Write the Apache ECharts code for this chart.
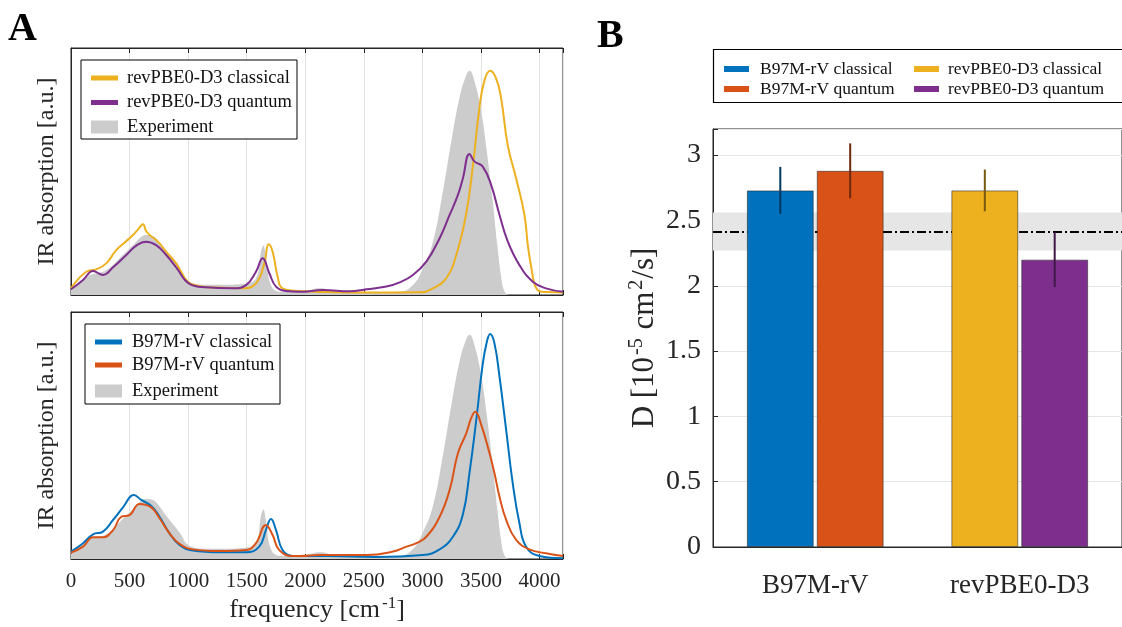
<!DOCTYPE html>
<html><head><meta charset="utf-8">
<script src="https://cdn.jsdelivr.net/npm/echarts@6/dist/echarts.min.js"></script>
<style>html,body{margin:0;padding:0;background:#fff}#c{width:1122px;height:627px}</style>
</head><body><div id="c"></div>
<script>
// ---------- Panel A data (IR spectra, arbitrary units) ----------
const freqTicks = [0, 500, 1000, 1500, 2000, 2500, 3000, 3500, 4000];

const expFreq = [0, 131, 216, 301, 415, 529, 600, 642, 690, 727, 813, 926, 1011, 1153, 1300, 1466, 1579, 1622, 1642, 1664, 1707, 1778, 1900, 2000, 2124, 2250, 2380, 2600, 2806, 2919, 3004, 3090, 3175, 3246, 3317, 3374, 3402, 3445, 3502, 3550, 3600, 3640, 3670, 3700, 3740, 3900, 4200];
const expVal  = [0.02, 0.074, 0.088, 0.10, 0.149, 0.202, 0.235, 0.243, 0.24, 0.23, 0.175, 0.108, 0.054, 0.042, 0.042, 0.045, 0.068, 0.175, 0.2, 0.155, 0.04, 0.013, 0.012, 0.015, 0.027, 0.015, 0.012, 0.012, 0.013, 0.04, 0.108, 0.216, 0.42, 0.62, 0.80, 0.89, 0.908, 0.864, 0.742, 0.58, 0.38, 0.2, 0.08, 0.015, 0.0, 0.0, 0.0];

const pbeClassFreq = [0, 131, 216, 301, 386, 457, 529, 580, 614, 640, 671, 742, 813, 898, 997, 1096, 1238, 1466, 1579, 1650, 1687, 1721, 1764, 1806, 1948, 2200, 2522, 2976, 3090, 3203, 3289, 3374, 3430, 3487, 3530, 3578, 3629, 3672, 3728, 3800, 3871, 3900, 3930, 3960, 4000, 4055, 4200];
const pbeClassVal  = [0.027, 0.094, 0.104, 0.128, 0.182, 0.212, 0.243, 0.27, 0.286, 0.26, 0.243, 0.216, 0.175, 0.128, 0.054, 0.036, 0.030, 0.027, 0.047, 0.128, 0.205, 0.175, 0.074, 0.027, 0.016, 0.012, 0.01, 0.011, 0.027, 0.068, 0.162, 0.33, 0.52, 0.76, 0.87, 0.908, 0.877, 0.796, 0.607, 0.472, 0.324, 0.2, 0.11, 0.04, 0.015, 0.012, 0.01];

const pbeQuantFreq = [0, 103, 188, 273, 359, 472, 557, 642, 727, 813, 898, 1011, 1153, 1381, 1494, 1579, 1636, 1693, 1750, 1835, 1954, 2153, 2380, 2522, 2692, 2806, 2919, 3033, 3147, 3232, 3303, 3345, 3402, 3445, 3515, 3587, 3658, 3729, 3828, 3942, 4055, 4200];
const pbeQuantVal  = [0.023, 0.061, 0.097, 0.081, 0.112, 0.162, 0.2, 0.216, 0.202, 0.162, 0.112, 0.045, 0.031, 0.027, 0.040, 0.094, 0.149, 0.088, 0.034, 0.016, 0.013, 0.02, 0.015, 0.023, 0.034, 0.051, 0.081, 0.135, 0.23, 0.324, 0.405, 0.472, 0.571, 0.54, 0.52, 0.445, 0.324, 0.216, 0.121, 0.054, 0.027, 0.013];

const b97ClassFreq = [0, 103, 188, 273, 359, 444, 537, 600, 685, 756, 841, 926, 1040, 1268, 1494, 1607, 1664, 1707, 1750, 1806, 1891, 2200, 2600, 3004, 3147, 3260, 3345, 3402, 3459, 3515, 3550, 3578, 3615, 3658, 3715, 3771, 3828, 3885, 3998, 4200];
const b97ClassVal  = [0.03, 0.064, 0.10, 0.111, 0.158, 0.209, 0.259, 0.239, 0.215, 0.171, 0.104, 0.057, 0.034, 0.027, 0.027, 0.05, 0.117, 0.162, 0.117, 0.036, 0.012, 0.012, 0.008, 0.016, 0.039, 0.09, 0.18, 0.35, 0.56, 0.79, 0.88, 0.911, 0.873, 0.738, 0.522, 0.306, 0.145, 0.05, 0.012, 0.003];

const b97QuantFreq = [0, 103, 188, 273, 359, 429, 500, 585, 685, 756, 841, 926, 1040, 1268, 1494, 1579, 1664, 1721, 1778, 1891, 1954, 2124, 2522, 2749, 2863, 2948, 3033, 3147, 3232, 3303, 3374, 3416, 3451, 3502, 3573, 3615, 3658, 3715, 3800, 3913, 4055, 4200];
const b97QuantVal  = [0.026, 0.05, 0.088, 0.088, 0.117, 0.171, 0.178, 0.223, 0.209, 0.165, 0.104, 0.061, 0.039, 0.032, 0.036, 0.064, 0.138, 0.097, 0.036, 0.012, 0.012, 0.016, 0.016, 0.03, 0.05, 0.064, 0.09, 0.171, 0.279, 0.428, 0.509, 0.57, 0.596, 0.543, 0.428, 0.347, 0.252, 0.158, 0.077, 0.039, 0.023, 0.012];

// ---------- Panel B data (diffusion coefficient) ----------
const methods = ['B97M-rV', 'revPBE0-D3'];
const dClassical = [2.73, 2.73];
const dQuantum = [2.88, 2.20];
const errClassicalLow = [2.55, 2.57];
const errClassicalHigh = [2.91, 2.89];
const errQuantumLow = [2.67, 1.99];
const errQuantumHigh = [3.09, 2.41];
const dExperiment = 2.41;
const dExperimentLow = 2.27;
const dExperimentHigh = 2.56;
const dTicks = [0, 0.5, 1, 1.5, 2, 2.5, 3];

// ---------- styling ----------
const FONT = 'Liberation Serif';
const C_BLUE = '#0072BD', C_ORANGE = '#D95319', C_YELLOW = '#EDB120', C_PURPLE = '#7E2F8E', C_GRAY = '#cccccc';
const E_BLUE = '#00395E', E_ORANGE = '#6D2A0D', E_YELLOW = '#775910', E_PURPLE = '#3F1847';
const AXC = '#262626';
const pairs = (f, v) => f.map((x, i) => [x, v[i]]);

const BAR_FRAC = 0.327, GAP_FRAC = 0.045;
const SMOOTH = 0.45;

const chart = echarts.init(document.getElementById('c'), null, {renderer: 'canvas'});

function freqAxis(gridIndex, showLabels, position) {
  return {
    type: 'value', gridIndex, position, min: 0, max: 4200, interval: 500,
    axisLine: {show: true, onZero: false, lineStyle: {color: AXC, width: 1}},
    axisTick: {show: true, inside: true, length: 5, lineStyle: {color: AXC}},
    axisLabel: {show: showLabels, color: AXC, fontFamily: FONT, fontSize: 21, margin: 12,
      formatter: v => (freqTicks.indexOf(v) >= 0 ? String(v) : '')},
    splitLine: {show: position === 'bottom', lineStyle: {color: '#e3e3e3', width: 1}}
  };
}
function irYAxis(gridIndex) {
  return {
    type: 'value', gridIndex, min: 0, max: 1,
    axisLine: {show: true, lineStyle: {color: AXC}}, axisTick: {show: false},
    axisLabel: {show: false}, splitLine: {show: false},
    name: 'IR absorption [a.u.]', nameLocation: 'middle', nameGap: 12, nameRotate: 90,
    nameTextStyle: {fontFamily: FONT, fontSize: 24, color: AXC}
  };
}
function lineSeries(name, data, color, xi, yi) {
  return {type: 'line', name, data, xAxisIndex: xi, yAxisIndex: yi, symbol: 'none',
    smooth: SMOOTH, color, lineStyle: {color, width: 2}, z: 3, silent: true};
}
function expSeries(xi, yi) {
  return {type: 'line', name: 'Experiment', data: pairs(expFreq, expVal), xAxisIndex: xi, yAxisIndex: yi,
    symbol: 'none', smooth: SMOOTH, color: C_GRAY,
    lineStyle: {width: 0}, areaStyle: {color: C_GRAY, opacity: 1}, z: 2, silent: true};
}

function barSeries(name, catIdx, values, color, stack) {
  return {type: 'bar', name, xAxisIndex: 4, yAxisIndex: 2, stack,
    data: methods.map((m, i) => (i === catIdx ? values[i] : '-')),
    barWidth: (BAR_FRAC * 100) + '%', barGap: (GAP_FRAC * 100) + '%',
    color, itemStyle: {color, borderColor: 'rgba(40,40,40,0.55)', borderWidth: 1}, z: 4, silent: true};
}
const errData = [];
methods.forEach((m, i) => {
  errData.push([i, errClassicalLow[i], errClassicalHigh[i], 0]);
  errData.push([i, errQuantumLow[i], errQuantumHigh[i], 1]);
});
const errColors = [[E_BLUE, E_ORANGE], [E_YELLOW, E_PURPLE]];

const legendText = (size) => ({fontFamily: FONT, fontSize: size, color: '#111', lineHeight: 20});

const option = {
  animation: false,
  backgroundColor: '#fff',
  grid: [
    {left: 71, top: 48, width: 492, height: 247, show: true, borderColor: AXC, borderWidth: 1, backgroundColor: 'transparent'},
    {left: 71, top: 312, width: 492, height: 247, show: true, borderColor: AXC, borderWidth: 1, backgroundColor: 'transparent'},
    {left: 713, top: 129, width: 410, height: 418, show: true, borderColor: AXC, borderWidth: 1, backgroundColor: 'transparent'}
  ],
  xAxis: [
    freqAxis(0, false, 'bottom'),
    freqAxis(0, false, 'top'),
    Object.assign(freqAxis(1, true, 'bottom'), {
      name: '{a|frequency [cm}{s|-1}{a|]}', nameLocation: 'middle', nameGap: 36,
      nameTextStyle: {rich: {
        a: {fontFamily: FONT, fontSize: 26, color: AXC, lineHeight: 30},
        s: {fontFamily: FONT, fontSize: 17, color: AXC, verticalAlign: 'top', lineHeight: 17, padding: [0, 0, 0, 2]}
      }}
    }),
    freqAxis(1, false, 'top'),
    {type: 'category', gridIndex: 2, data: methods,
      axisLine: {show: true, lineStyle: {color: AXC}}, axisTick: {show: false},
      axisLabel: {color: AXC, fontFamily: FONT, fontSize: 27, margin: 25}}
  ],
  yAxis: [
    irYAxis(0),
    irYAxis(1),
    {type: 'value', gridIndex: 2, min: 0, max: 3.2, interval: 0.5,
      axisLine: {show: true, lineStyle: {color: AXC}},
      axisTick: {show: true, inside: true, length: 5, lineStyle: {color: AXC}},
      axisLabel: {color: AXC, fontFamily: FONT, fontSize: 28, margin: 12,
        formatter: v => (dTicks.some(t => Math.abs(t - v) < 1e-9) ? String(v) : '')},
      splitLine: {show: true, lineStyle: {color: '#e6e6e6', width: 1}},
      name: '{a|D [10}{s|-5}{a| cm}{s|2}{a|/s]}', nameLocation: 'middle', nameGap: 50, nameRotate: 90,
      nameTextStyle: {rich: {
        a: {fontFamily: FONT, fontSize: 31, color: AXC, lineHeight: 36},
        s: {fontFamily: FONT, fontSize: 20, color: AXC, verticalAlign: 'top', lineHeight: 20, padding: [0, 1, 0, 2]}
      }}
    }
  ],
  legend: [
    {orient: 'vertical', left: 86, top: 63, itemWidth: 27, itemHeight: 5, itemGap: 4.5, icon: 'rect',
      data: ['revPBE0-D3 classical', 'revPBE0-D3 quantum'], textStyle: Object.assign(legendText(18.5), {padding: [0, 0, 0, 4]}),
      itemStyle: {borderWidth: 0}, selectedMode: false, z: 10},
    {orient: 'vertical', left: 86, top: 112, itemWidth: 27, itemHeight: 13, icon: 'rect',
      data: [{name: 'Experiment', itemStyle: {color: C_GRAY}}], textStyle: Object.assign(legendText(18.5), {padding: [0, 0, 0, 4]}),
      itemStyle: {borderWidth: 0}, selectedMode: false, z: 10},
    {orient: 'vertical', left: 90, top: 327, itemWidth: 27, itemHeight: 5, itemGap: 3, icon: 'rect',
      data: ['B97M-rV classical', 'B97M-rV quantum'], textStyle: Object.assign(legendText(18.5), {padding: [0, 0, 0, 5]}),
      itemStyle: {borderWidth: 0}, selectedMode: false, z: 10},
    {orient: 'vertical', left: 90, top: 376, itemWidth: 27, itemHeight: 13, icon: 'rect',
      data: [{name: 'Experiment', itemStyle: {color: C_GRAY}}], textStyle: Object.assign(legendText(18.5), {padding: [0, 0, 0, 5]}),
      itemStyle: {borderWidth: 0}, selectedMode: false, z: 10},
    {orient: 'vertical', left: 719, top: 54, itemWidth: 25, itemHeight: 6, itemGap: 0, icon: 'rect',
      data: ['B97M-rV classical', 'B97M-rV quantum'], textStyle: Object.assign(legendText(17.5), {padding: [0, 0, 0, 6]}),
      itemStyle: {borderWidth: 0}, selectedMode: false, z: 10},
    {orient: 'vertical', left: 909, top: 54, itemWidth: 25, itemHeight: 6, itemGap: 0, icon: 'rect',
      data: ['revPBE0-D3 classical', 'revPBE0-D3 quantum'], textStyle: Object.assign(legendText(17.5), {padding: [0, 0, 0, 4]}),
      itemStyle: {borderWidth: 0}, selectedMode: false, z: 10}
  ],
  graphic: [
    {type: 'text', left: 8, top: 10, style: {text: 'A', font: 'bold 40px "Liberation Serif"', fill: '#000'}},
    {type: 'text', left: 597, top: 17, style: {text: 'B', font: 'bold 40px "Liberation Serif"', fill: '#000'}},
    {type: 'rect', shape: {x: 81, y: 60, width: 216, height: 79}, style: {fill: '#fff', stroke: '#000', lineWidth: 1}, z: 8},
    {type: 'rect', shape: {x: 85, y: 324, width: 195, height: 80}, style: {fill: '#fff', stroke: '#000', lineWidth: 1}, z: 8},
    {type: 'rect', shape: {x: 713.5, y: 49.5, width: 420, height: 53}, style: {fill: '#fff', stroke: '#000', lineWidth: 1.2}, z: 8}
  ],
  series: [
    expSeries(0, 0),
    lineSeries('revPBE0-D3 classical', pairs(pbeClassFreq, pbeClassVal), C_YELLOW, 0, 0),
    lineSeries('revPBE0-D3 quantum', pairs(pbeQuantFreq, pbeQuantVal), C_PURPLE, 0, 0),
    expSeries(2, 1),
    lineSeries('B97M-rV classical', pairs(b97ClassFreq, b97ClassVal), C_BLUE, 2, 1),
    lineSeries('B97M-rV quantum', pairs(b97QuantFreq, b97QuantVal), C_ORANGE, 2, 1),
    barSeries('B97M-rV classical', 0, dClassical, C_BLUE, 'cls'),
    barSeries('B97M-rV quantum', 0, dQuantum, C_ORANGE, 'qnt'),
    barSeries('revPBE0-D3 classical', 1, dClassical, C_YELLOW, 'cls'),
    barSeries('revPBE0-D3 quantum', 1, dQuantum, C_PURPLE, 'qnt'),
    {type: 'custom', name: 'errors', xAxisIndex: 4, yAxisIndex: 2, data: errData, z: 6, silent: true,
      renderItem: (params, api) => {
        const cat = api.value(0), slot = api.value(3);
        const pLow = api.coord([cat, api.value(1)]);
        const pHigh = api.coord([cat, api.value(2)]);
        const band = api.size([1, 0])[0];
        const bw = band * BAR_FRAC;
        const off = (bw + bw * GAP_FRAC) / 2 * (slot === 0 ? -1 : 1);
        return {type: 'line', shape: {x1: pLow[0] + off, y1: pLow[1], x2: pHigh[0] + off, y2: pHigh[1]},
          style: {stroke: errColors[cat][slot], lineWidth: 2}};
      },
      markArea: {silent: true, z: 1, itemStyle: {color: '#e6e6e6'},
        data: [[{yAxis: dExperimentLow}, {yAxis: dExperimentHigh}]]},
      markLine: {silent: true, z: 2, symbol: ['none', 'none'], label: {show: false},
        lineStyle: {color: '#000', width: 2, type: [9, 3, 2, 3]},
        data: [{yAxis: dExperiment}]}
    }
  ]
};
chart.setOption(option);
</script></body></html>
